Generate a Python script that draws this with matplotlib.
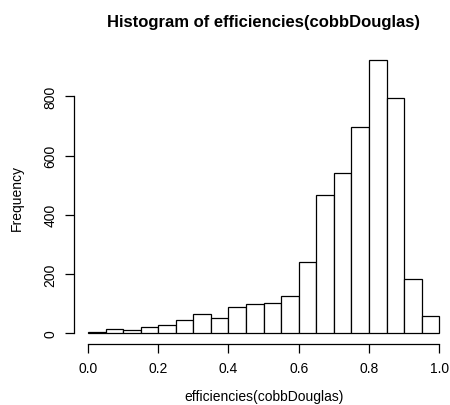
import matplotlib
matplotlib.use('Agg')
import matplotlib.pyplot as plt
import numpy as np

plt.rcParams['font.family'] = ['Liberation Sans', 'DejaVu Sans']

# bin edges of the histogram (width 0.05) and counts
breaks = np.round(np.arange(0, 1.0001, 0.05), 2)
counts = [3, 13, 10, 22, 28, 45, 64, 51, 89, 98, 101, 125, 241, 467, 540,
          697, 922, 795, 183, 60]
xticks = [0.0, 0.2, 0.4, 0.6, 0.8, 1.0]
yticks = [0, 200, 400, 600, 800]

fig = plt.figure(figsize=(4.5, 4.06), dpi=100)
ax = fig.add_axes([0.1642, 0.1495, 0.8433, 0.7268])

ax.bar(breaks[:-1], counts, width=np.diff(breaks), align='edge',
       color='white', edgecolor='black', linewidth=0.9)

ax.set_xlim(-0.04, 1.04)
ax.set_ylim(-37, 959)

for s in ax.spines.values():
    s.set_visible(False)

# R style axes: lines only as long as the tick range
ax.plot([0, 1], [-37, -37], color='black', lw=0.9, clip_on=False)
ax.plot([-0.04, -0.04], [0, 800], color='black', lw=0.9, clip_on=False)

ax.set_xticks(xticks)
ax.set_xticklabels(['%.1f' % v for v in xticks])
ax.set_yticks(yticks)
ax.set_yticklabels([str(v) for v in yticks], rotation=90, va='center')
ax.tick_params(axis='both', length=6.5, width=0.9, labelsize=10, pad=5.5)

ax.set_title('Histogram of efficiencies(cobbDouglas)', fontsize=12,
             fontweight='bold', pad=17)
ax.set_xlabel('efficiencies(cobbDouglas)', fontsize=10, labelpad=10)
ax.set_ylabel('Frequency', fontsize=10, labelpad=14)

fig.savefig('out.png', dpi=100)
